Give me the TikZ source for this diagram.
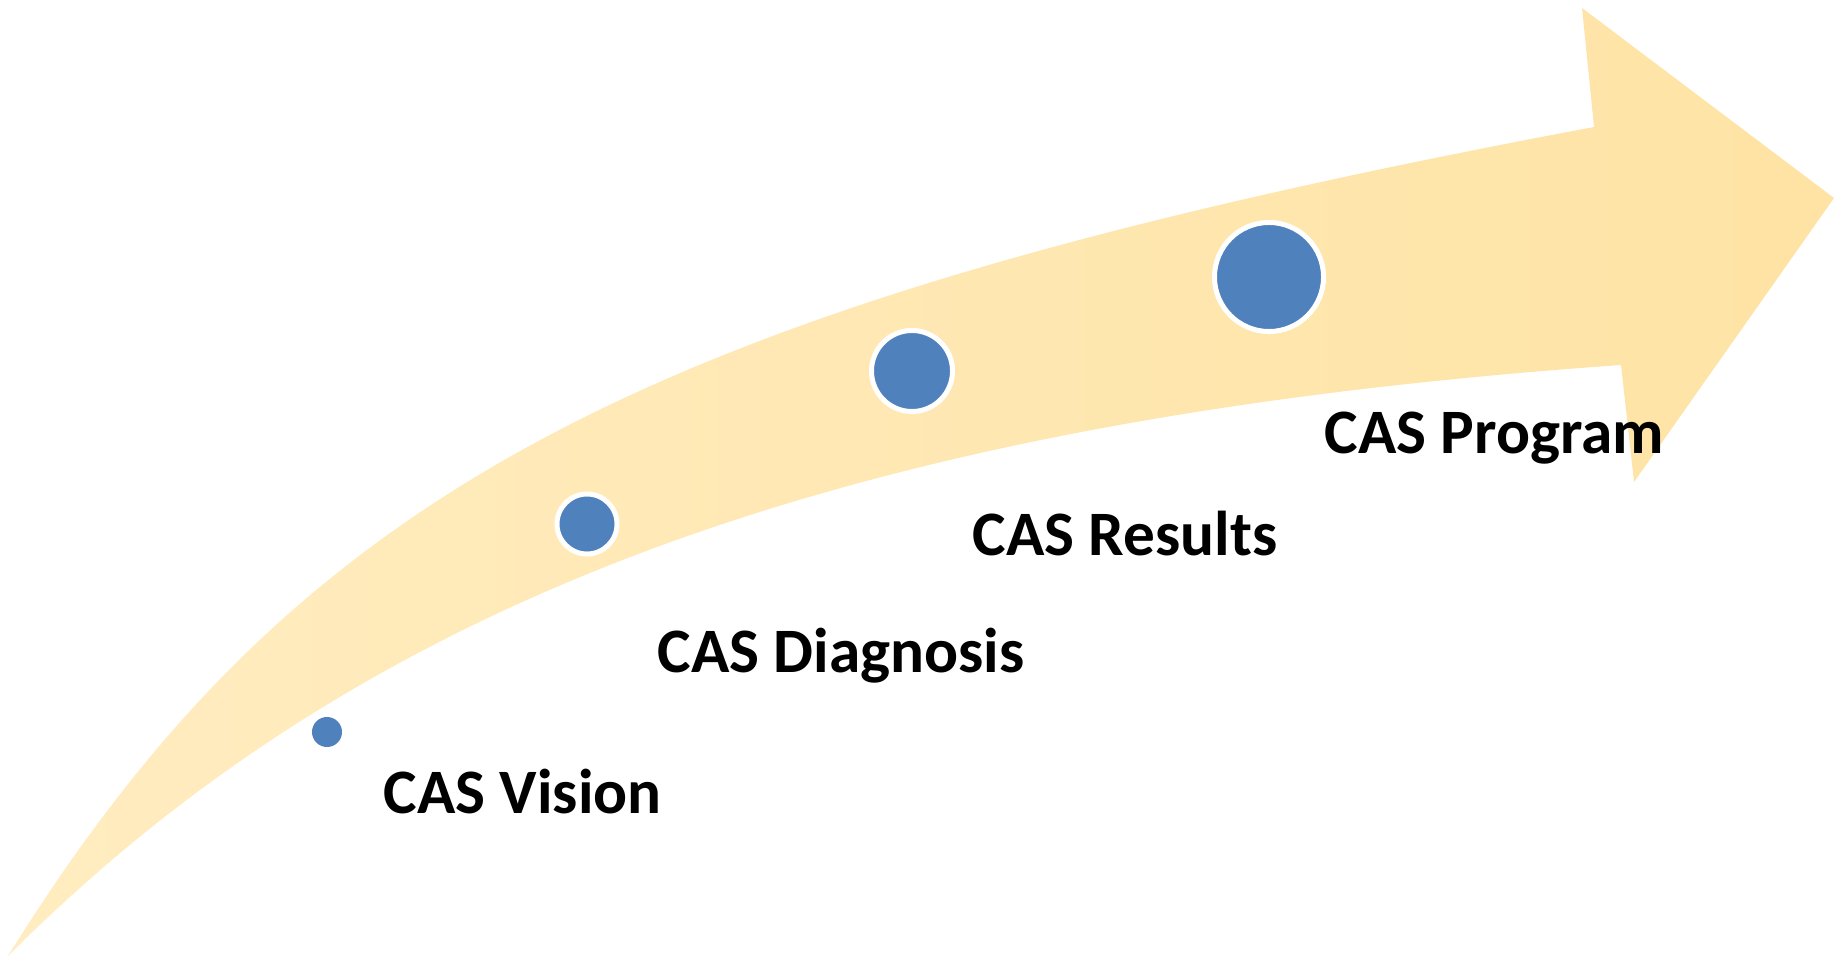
\documentclass[tikz,border=0pt]{standalone}
\usepackage{fontspec}
\setmainfont{Carlito}
\usepackage{xcolor}
\usepackage{tikz}
\definecolor{arrowlight}{RGB}{255, 236, 192}
\definecolor{arrowdark}{RGB}{254, 227, 164}
\definecolor{dotblue}{RGB}{79, 129, 189}
\usetikzlibrary{shapes, positioning, calc}

\begin{document}
\begin{tikzpicture}[
    x=0.01cm, y=-0.01cm,
    milestone/.style={circle, fill=dotblue, draw=white, line width=0.05cm, inner sep=0pt},
    stage/.style={anchor=base west, inner sep=0pt, font=\fontsize{18}{22}\selectfont\bfseries}
]
    \useasboundingbox (0,0) rectangle (1843,958);

    % Curved arrow
    \shade[left color=arrowlight, right color=arrowdark]
        (8,956) .. controls (300,486) and (649,304) .. (1594,127)
        -- (1582,8) -- (1834,198) -- (1634,482) -- (1621,365)
        .. controls (851,419) and (367,596) .. (8,956) -- cycle;

    % Milestones
    \node[milestone, draw=none, minimum size=0.3cm] (vision) at (327,732) {};
    \node[milestone, minimum size=0.6cm] (diagnosis) at (587,524) {};
    \node[milestone, minimum size=0.81cm] (results) at (912,371) {};
    \node[milestone, minimum size=1.09cm] (program) at (1269,277) {};

    % Labels
    \node[stage] (visionlbl) at (383,813) {CAS Vision};
    \node[stage] (diagnosislbl) at (657,672) {CAS Diagnosis};
    \node[stage] (resultslbl) at (972,555) {CAS Results};
    \node[stage] (programlbl) at (1324,453) {CAS Program};
\end{tikzpicture}
\end{document}
